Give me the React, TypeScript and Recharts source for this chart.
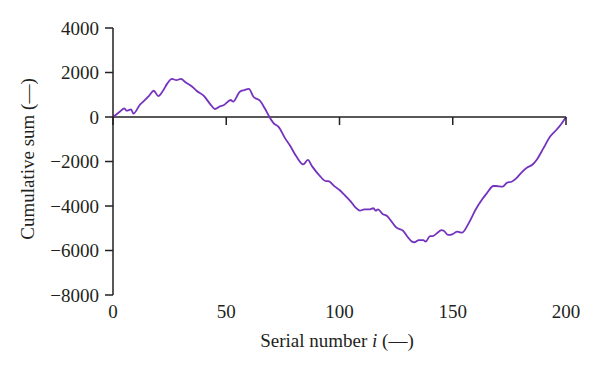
import React from 'react';
import { LineChart, Line, XAxis, YAxis, ReferenceLine } from 'recharts';

// serial number i and cumulative sum
const serial = [
  0, 3, 5, 6, 8, 9, 12, 13, 16, 18, 20, 22, 24, 26, 28, 30, 32, 35, 37, 40,
  43, 45, 47, 49, 52, 53, 56, 58, 60, 62, 65, 67, 69, 71, 73, 76, 78, 81, 84, 86,
  88, 91, 94, 95, 98, 100, 102, 105, 107, 109, 111, 113, 115, 116, 117, 119, 121, 123, 125, 128,
  130, 132, 133, 135, 137, 138, 140, 141, 143, 145, 146, 148, 150, 152, 154, 157, 160, 163, 165, 168,
  169, 172, 174, 176, 178, 180, 183, 185, 187, 190, 193, 196, 198, 200,
];
const cumSum = [
  0, 240, 390, 285, 340, 150, 570, 660, 960, 1180, 940, 1170, 1510, 1710, 1660, 1710, 1560, 1360, 1170, 960,
  570, 360, 465, 540, 765, 690, 1140, 1210, 1260, 910, 720, 390, 15, -285, -435, -960, -1260, -1780, -2130, -1930,
  -2230, -2610, -2880, -2880, -3130, -3280, -3480, -3800, -4060, -4210, -4150, -4150, -4100, -4210, -4150, -4360, -4450, -4700, -4960, -5110,
  -5380, -5600, -5630, -5530, -5530, -5600, -5350, -5350, -5230, -5080, -5110, -5300, -5260, -5150, -5200, -4780, -4180, -3700, -3430, -3100,
  -3100, -3130, -2950, -2910, -2760, -2530, -2260, -2160, -1930, -1410, -880, -550, -300, 0,
];
const xTicks = [0, 50, 100, 150, 200];
const yTicks = [4000, 2000, 0, -2000, -4000, -6000, -8000];

const data = serial.map((i, k) => ({ i, sum: cumSum[k] }));

const FONT = '"Liberation Serif", "DejaVu Serif", serif';
const INK = '#231f20';
const FS = 19;
const W = 600;
const H = 371;
const TOP = 28;
const X_AXIS_H = 76;
const PLOT_H = H - TOP - X_AXIS_H;
// the zero line sits at 4000 / 12000 of the plot height
const ZERO_Y = TOP + (PLOT_H * 4000) / 12000;

const XTick = (props: any) => {
  const { x, payload } = props;
  return (
    <g>
      <line x1={x} x2={x} y1={ZERO_Y} y2={ZERO_Y + 8} stroke={INK} strokeWidth={1.5} />
      <text x={x} y={318} textAnchor="middle" fontFamily={FONT} fontSize={FS} fill={INK}>
        {payload.value}
      </text>
    </g>
  );
};

const fmtY = (v: number) => (v < 0 ? '\u2212' + Math.abs(v) : String(v));

export default function App() {
  return (
    <div style={{ position: 'absolute', left: 0, top: 0, background: '#fff' }}>
      <LineChart width={W} height={H} data={data} margin={{ top: TOP, right: 34, bottom: 0, left: 0 }}>
        <XAxis
          dataKey="i"
          type="number"
          domain={[0, 200]}
          ticks={xTicks}
          axisLine={false}
          tickLine={false}
          height={X_AXIS_H}
          tick={<XTick />}
          label={{
            content: () => (
              <text x={337} y={347} textAnchor="middle" fontFamily={FONT} fontSize={FS} fill={INK}>
                Serial number <tspan fontStyle="italic">i</tspan> (—)
              </text>
            ),
          }}
        />
        <YAxis
          type="number"
          domain={[-8000, 4000]}
          ticks={yTicks}
          width={113}
          interval={0}
          tickSize={8}
          tickMargin={6}
          tickFormatter={fmtY}
          axisLine={{ stroke: INK, strokeWidth: 1.5 }}
          tickLine={{ stroke: INK, strokeWidth: 1.5 }}
          tick={{ fontFamily: FONT, fontSize: FS, fill: INK }}
          label={{
            content: () => (
              <text
                x={30}
                y={159}
                transform="rotate(-90, 30, 159)"
                textAnchor="middle"
                dominantBaseline="middle"
                fontFamily={FONT}
                fontSize={FS}
                fill={INK}
              >
                Cumulative sum (—)
              </text>
            ),
          }}
        />
        <ReferenceLine y={0} stroke={INK} strokeWidth={1.5} />
        <Line
          type="monotone"
          dataKey="sum"
          stroke="#7432be"
          strokeWidth={1.8}
          dot={false}
          isAnimationActive={false}
        />
      </LineChart>
    </div>
  );
}
